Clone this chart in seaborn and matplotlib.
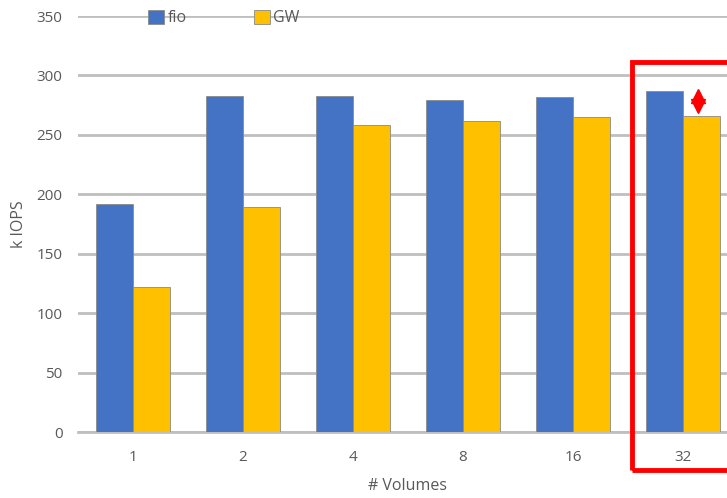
import pandas as pd
import seaborn as sns
import matplotlib.pyplot as plt
from matplotlib.patches import Rectangle

volumes = ["1", "2", "4", "8", "16", "32"]
fio = [192, 283, 283, 279, 282, 287]
gw = [122, 189, 258, 262, 265, 266]

df = pd.DataFrame({
    "vol": volumes * 2,
    "kiops": fio + gw,
    "tool": ["fio"] * len(volumes) + ["GW"] * len(volumes),
})

sns.set_style("white")
plt.rcParams["font.family"] = ["Open Sans", "DejaVu Sans"]

fig = plt.figure(figsize=(7.27, 4.98), dpi=100)
ax = fig.add_axes([78 / 727, 66 / 498, 660 / 727, 416 / 498])

sns.barplot(data=df, x="vol", y="kiops", hue="tool", order=volumes,
            palette={"fio": "#4472C4", "GW": "#FFC000"}, saturation=1,
            width=0.67, edgecolor="#8a8a8a", linewidth=0.6, ax=ax, zorder=3)

ax.set_ylim(0, 350)
ax.set_xlim(-0.5, 5.5)
ax.set_yticks(range(0, 351, 50))
ax.yaxis.grid(True, color="#bfbfbf", linewidth=2, zorder=0)
ax.set_axisbelow(True)
for s in ["top", "right", "left"]:
    ax.spines[s].set_visible(False)
ax.spines["bottom"].set_color("#bfbfbf")
ax.spines["bottom"].set_linewidth(2)
ax.tick_params(axis="both", length=0, labelsize=11, labelcolor="#595959")
ax.tick_params(axis="y", pad=11)
ax.tick_params(axis="x", pad=13)
ax.set_xlabel("# Volumes", fontsize=11.5, color="#595959", labelpad=9)
ax.set_ylabel("k IOPS", fontsize=11.5, color="#595959", labelpad=7)

# legend across the top line
h, l = ax.get_legend_handles_labels()
ax.legend(h, l, ncol=2, loc="center left", bbox_to_anchor=(0.085, 0.995),
          frameon=False, fontsize=11.5, handlelength=1.0, handleheight=1.0,
          handletextpad=0.2, columnspacing=4.2, labelcolor="#595959")

# highlight box around 32 volumes
ax.add_patch(Rectangle((4.535, -32), 1.2, 343, fill=False, edgecolor="#ff0000",
                       linewidth=3.5, clip_on=False, zorder=5))
# gap marker (double arrow)
ax.plot([5.14, 5.14], [271, 286], color="#ff0000", lw=2, zorder=6, clip_on=False)
ax.plot([5.14], [282.5], marker="^", color="#ff0000", markersize=10, zorder=6, clip_on=False)
ax.plot([5.14], [274.5], marker="v", color="#ff0000", markersize=10, zorder=6, clip_on=False)

fig.savefig("out.png", dpi=100)
